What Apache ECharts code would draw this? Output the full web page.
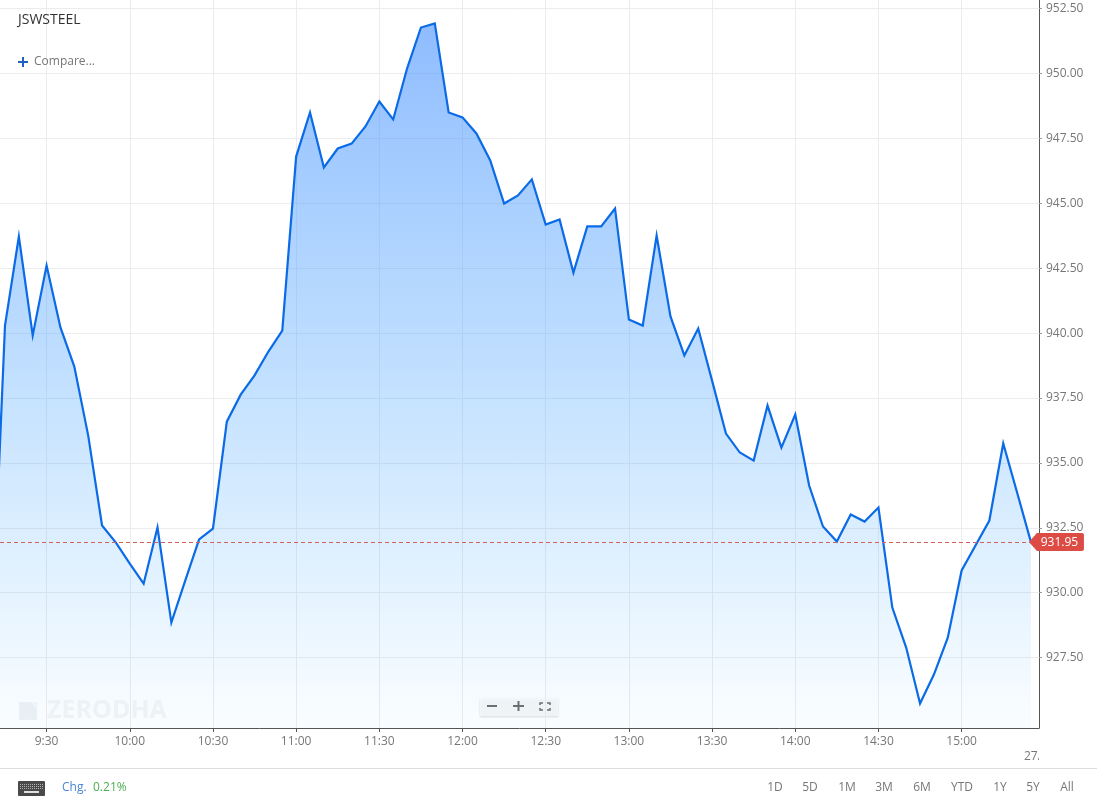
<!DOCTYPE html>
<html>
<head>
<meta charset="utf-8">
<style>
  html, body { margin: 0; padding: 0; background: #fff; }
  #chart { width: 1097px; height: 808px; }
</style>
<script src="https://cdn.jsdelivr.net/npm/echarts@6/dist/echarts.min.js"></script>
</head>
<body>
<div id="chart"></div>
<script>
const times = [
  "9:10", "9:15", "9:20", "9:25", "9:30", "9:35", "9:40", "9:45", "9:50", "9:55",
  "10:00", "10:05", "10:10", "10:15", "10:20", "10:25", "10:30", "10:35", "10:40", "10:45", "10:50", "10:55",
  "11:00", "11:05", "11:10", "11:15", "11:20", "11:25", "11:30", "11:35", "11:40", "11:45", "11:50", "11:55",
  "12:00", "12:05", "12:10", "12:15", "12:20", "12:25", "12:30", "12:35", "12:40", "12:45", "12:50", "12:55",
  "13:00", "13:05", "13:10", "13:15", "13:20", "13:25", "13:30", "13:35", "13:40", "13:45", "13:50", "13:55",
  "14:00", "14:05", "14:10", "14:15", "14:20", "14:25", "14:30", "14:35", "14:40", "14:45", "14:50", "14:55",
  "15:00", "15:05", "15:10", "15:15", "15:20", "15:25"
]
const prices = [
  927.7, 940.29, 943.72, 939.91, 942.60, 940.22, 938.71, 936.06, 932.59, 931.93,
  931.12, 930.35, 932.51, 928.85, 930.47, 932.05, 932.47, 936.59, 937.63, 938.37, 939.29, 940.10,
  946.80, 948.50, 946.38, 947.11, 947.30, 947.96, 948.92, 948.23, 950.19, 951.77, 951.93, 948.50,
  948.31, 947.69, 946.65, 944.99, 945.30, 945.92, 944.18, 944.38, 942.33, 944.11, 944.11, 944.80,
  940.52, 940.29, 943.76, 940.64, 939.14, 940.18, 938.17, 936.13, 935.40, 935.09, 937.21, 935.59,
  936.86, 934.13, 932.55, 931.97, 933.01, 932.74, 933.28, 929.43, 927.89, 925.73, 926.85, 928.27,
  930.86, 931.82, 932.78, 935.75, 933.86, 931.95
]
const timeTicks = ["9:30", "10:00", "10:30", "11:00", "11:30", "12:00", "12:30", "13:00", "13:30", "14:00", "14:30", "15:00"]
const priceTicks = [927.5, 930, 932.5, 935, 937.5, 940, 942.5, 945, 947.5, 950, 952.5]
const lastPrice = 931.95
const ranges = ["1D", "5D", "1M", "3M", "6M", "YTD", "1Y", "5Y", "All"]
const rangeCentres = [775, 810, 847, 884, 922, 962, 1000, 1033, 1067]

const font = "Open Sans"
const toMin = (t) => {
  const p = t.split(":")
  return Number(p[0]) * 60 + Number(p[1])
}
const toLabel = (m) => Math.floor(m / 60) + ":" + String(m % 60).padStart(2, "0")

const text = (x, y, str, color, size, extra) => ({
  type: "text",
  x: x,
  y: y,
  z: 100,
  silent: true,
  style: Object.assign({
    text: str,
    fill: color,
    font: (size || 12) + "px '" + font + "'",
    verticalAlign: "middle"
  }, extra || {})
})

const corner = (pts) => ({
  type: "polyline",
  shape: { points: pts },
  style: { fill: null, stroke: "#6b6b6b", lineWidth: 1.5 }
})

const zoomButtons = {
  type: "group",
  silent: true,
  z: 100,
  children: [
    { type: "rect", shape: { x: 480, y: 698, width: 78, height: 18 }, style: { fill: "rgba(255,255,255,0.75)", shadowBlur: 2, shadowColor: "rgba(0,0,0,0.2)", shadowOffsetY: 1 } },
    { type: "rect", shape: { x: 487, y: 705, width: 10, height: 2 }, style: { fill: "#6b6b6b" } },
    { type: "rect", shape: { x: 513, y: 705, width: 11, height: 2 }, style: { fill: "#6b6b6b" } },
    { type: "rect", shape: { x: 517.5, y: 701, width: 2, height: 10 }, style: { fill: "#6b6b6b" } },
    corner([[540, 705], [540, 703], [543, 703]]),
    corner([[547, 703], [550, 703], [550, 705]]),
    corner([[550, 708], [550, 710], [547, 710]]),
    corner([[543, 710], [540, 710], [540, 708]])
  ]
}

const logo = {
  type: "group",
  silent: true,
  children: [
    { type: "polygon", shape: { points: [[19, 702], [31, 702], [37, 709], [37, 720], [19, 720]] }, style: { fill: "#eff2f4" } },
    { type: "polygon", shape: { points: [[32, 702], [37, 702], [37, 708]] }, style: { fill: "#f4f6f8" } }
  ]
}

const keyboard = {
  type: "group",
  silent: true,
  children: [
    { type: "rect", shape: { x: 18, y: 781, width: 27, height: 15, r: 1 }, style: { fill: "#4a4a4a" } },
    { type: "line", shape: { x1: 20, y1: 784.5, x2: 43, y2: 784.5 }, style: { stroke: "#b0b0b0", lineWidth: 1, lineDash: [1, 1] } },
    { type: "line", shape: { x1: 20, y1: 786.5, x2: 43, y2: 786.5 }, style: { stroke: "#b0b0b0", lineWidth: 1, lineDash: [1, 1] } },
    { type: "line", shape: { x1: 20, y1: 788.5, x2: 43, y2: 788.5 }, style: { stroke: "#b0b0b0", lineWidth: 1, lineDash: [1, 1] } },
    { type: "rect", shape: { x: 24, y: 791, width: 15, height: 2 }, style: { fill: "#e0e0e0" } }
  ]
}

const myChart = echarts.init(document.getElementById("chart"), null, { renderer: "canvas" })

myChart.setOption({
  animation: false,
  backgroundColor: "#fff",
  grid: { left: 0, right: 58, top: 0, height: 728, containLabel: false },
  xAxis: {
    type: "value",
    min: 553.2,
    max: 927.9,
    axisLine: { onZero: false, lineStyle: { color: "#555", width: 1 } },
    axisTick: { show: true, length: 4, customValues: timeTicks.map(toMin), lineStyle: { color: "#555" } },
    axisLabel: {
      customValues: timeTicks.map(toMin),
      formatter: (v) => toLabel(v),
      color: "#777",
      fontFamily: font,
      fontSize: 12,
      margin: 8
    },
    splitLine: { show: true, lineStyle: { color: "#ececec", width: 1 } }
  },
  yAxis: {
    type: "value",
    position: "right",
    min: 924.79,
    max: 952.83,
    axisLine: { show: true, lineStyle: { color: "#555", width: 1 } },
    axisTick: { show: true, length: 3, customValues: priceTicks, lineStyle: { color: "#999" } },
    axisLabel: {
      customValues: priceTicks,
      formatter: (v) => v.toFixed(2),
      color: "#777",
      fontFamily: font,
      fontSize: 12,
      margin: 7
    },
    splitLine: { show: true, lineStyle: { color: "#ececec", width: 1 } }
  },
  series: [
    {
      type: "line",
      data: times.map((t, i) => [toMin(t), prices[i]]),
      showSymbol: false,
      symbol: "none",
      clip: true,
      lineStyle: { color: "#0b6be6", width: 2.2, join: "miter" },
      areaStyle: {
        origin: "start",
        opacity: 1,
        color: {
          type: "linear",
          x: 0, y: 0, x2: 0, y2: 1,
          colorStops: [
            { offset: 0, color: "rgba(83,152,255,0.65)" },
            { offset: 0.5, color: "rgba(88,170,255,0.37)" },
            { offset: 1, color: "rgba(100,190,255,0.03)" }
          ]
        }
      },
      markLine: {
        silent: true,
        symbol: "none",
        label: { show: false },
        lineStyle: { color: "#d2605c", type: [4, 3], width: 1 },
        data: [{ yAxis: lastPrice }]
      },
      markPoint: {
        silent: true,
        symbol: "path://M0,9 L8,0 L53,0 Q55,0 55,2 L55,16 Q55,18 53,18 L8,18 Z",
        symbolSize: [55, 18],
        symbolKeepAspect: false,
        symbolOffset: [25.5, 0],
        itemStyle: { color: "#dd4b45" },
        label: {
          show: true,
          position: "inside",
          offset: [3, 0],
          color: "#fff",
          fontFamily: font,
          fontSize: 12,
          formatter: (p) => p.value.toFixed(2)
        },
        data: [{ coord: [toMin(times[times.length - 1]), lastPrice], value: lastPrice }]
      }
    }
  ],
  graphic: [
    text(18, 20, "JSWSTEEL", "#333", 14),
    { type: "rect", silent: true, z: 100, shape: { x: 18, y: 61, width: 10, height: 2 }, style: { fill: "#1f62c0" } },
    { type: "rect", silent: true, z: 100, shape: { x: 22, y: 57, width: 2, height: 10 }, style: { fill: "#1f62c0" } },
    text(34, 62, "Compare...", "#777", 12),
    logo,
    text(47, 711, "ZERODHA", "#eff2f4", 25, { font: "bold 25px '" + font + "'" }),
    zoomButtons,
    text(1024, 757, "27/", "#777", 12),
    { type: "rect", silent: true, z: 101, shape: { x: 1039, y: 745, width: 58, height: 22 }, style: { fill: "#fff" } },
    { type: "rect", silent: true, shape: { x: 0, y: 768, width: 1097, height: 1 }, style: { fill: "#ddd" } },
    keyboard,
    text(62, 788, "Chg.", "#4a86d8", 12),
    text(93, 788, "0.21%", "#4caf50", 12)
  ].concat(ranges.map((r, i) => text(rangeCentres[i], 788, r, "#777", 12, { textAlign: "center" })))
})

window.addEventListener("resize", () => {
  myChart.resize()
})
</script>
</body>
</html>
